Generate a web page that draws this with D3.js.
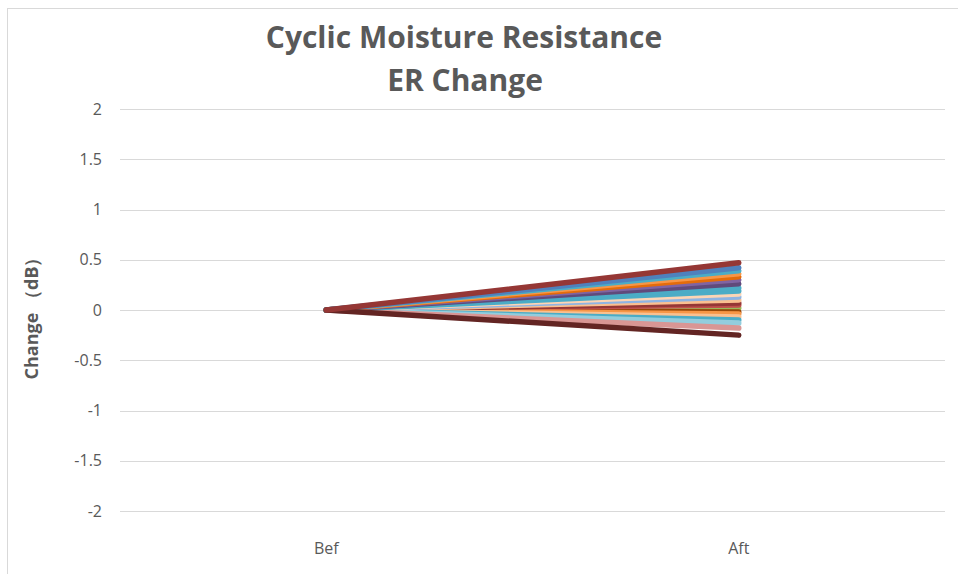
<!DOCTYPE html>
<html>
<head>
<meta charset="utf-8">
<script src="https://cdn.jsdelivr.net/npm/d3@7"></script>
<style>
  body { margin: 0; background: #fff; }
  text { font-family: "Open Sans", "Liberation Sans", sans-serif; }
</style>
</head>
<body>
<div class="main"></div>
<script>
const categories = ["Bef", "Aft"];
const yTicks = [2, 1.5, 1, 0.5, 0, -0.5, -1, -1.5, -2];
const befValues = [0, 0, 0, 0, 0, 0, 0, 0, 0, 0, 0, 0, 0, 0, 0, 0, 0, 0, 0, 0, 0, 0];
const aftValues = [0.02, -0.02, 0.05, -0.04, 0.07, -0.07, 0.10, -0.10, 0.13, -0.13, 0.16,
                   -0.18, 0.19, 0.22, 0.26, 0.30, 0.33, 0.36, 0.39, 0.42, -0.25, 0.47];
const seriesColors = ["#9bbb59", "#984807", "#c0504d", "#f79646", "#953735", "#fac090", "#fac090",
                      "#4bacc6", "#8eb4e3", "#93cddd", "#fcd5b5", "#d99694", "#4bacc6", "#4bacc6",
                      "#604a7b", "#8064a2", "#e46c0a", "#f79646", "#4bacc6", "#4f81bd", "#632523", "#953735"];

const W = 958, H = 574;

const svg = d3.select(".main").append("svg")
    .attr("width", W)
    .attr("height", H);

// chart area border
svg.append("rect")
    .attr("x", 7.5).attr("y", 8.5)
    .attr("width", W).attr("height", H)
    .attr("fill", "#fff")
    .attr("stroke", "#d9d9d9");

const x = d3.scalePoint()
    .domain(categories)
    .range([120, 945])
    .padding(0.5);

const y = d3.scaleLinear()
    .domain([-2, 2])
    .range([511, 109]);

// gridlines
svg.append("g")
    .selectAll("line")
    .data(yTicks)
    .enter().append("line")
    .attr("x1", 120).attr("x2", 945)
    .attr("y1", d => Math.round(y(d)) + 0.5)
    .attr("y2", d => Math.round(y(d)) + 0.5)
    .attr("stroke", "#d9d9d9");

// y tick labels
svg.append("g")
    .selectAll("text")
    .data(yTicks)
    .enter().append("text")
    .attr("x", 102)
    .attr("y", d => y(d))
    .attr("dy", "0.35em")
    .attr("text-anchor", "end")
    .attr("font-size", 16)
    .attr("fill", "#595959")
    .text(d => d);

// x labels
svg.append("g")
    .selectAll("text")
    .data(categories)
    .enter().append("text")
    .attr("x", d => x(d))
    .attr("y", 554)
    .attr("text-anchor", "middle")
    .attr("font-size", 16)
    .attr("fill", "#595959")
    .text(d => d);

// series lines
const series = aftValues.map((v, i) => ({
    color: seriesColors[i],
    values: [befValues[i], v]
}));

const line = d3.line()
    .x((d, i) => x(categories[i]))
    .y(d => y(d));

svg.append("g")
    .selectAll("path")
    .data(series)
    .enter().append("path")
    .attr("d", d => line(d.values))
    .attr("fill", "none")
    .attr("stroke", d => d.color)
    .attr("stroke-width", 5.5)
    .attr("stroke-linecap", "round");

// title
const title = svg.append("text")
    .attr("text-anchor", "middle")
    .attr("font-size", 30)
    .attr("font-weight", "bold")
    .attr("fill", "#595959");
title.append("tspan").attr("x", 464).attr("y", 48).text("Cyclic Moisture Resistance");
title.append("tspan").attr("x", 465).attr("y", 91).text("ER Change");

// y axis title
svg.append("text")
    .attr("transform", "translate(38,314) rotate(-90)")
    .attr("text-anchor", "middle")
    .attr("font-size", 18)
    .attr("font-weight", "bold")
    .attr("fill", "#595959")
    .text("Change （dB）");
</script>
</body>
</html>
